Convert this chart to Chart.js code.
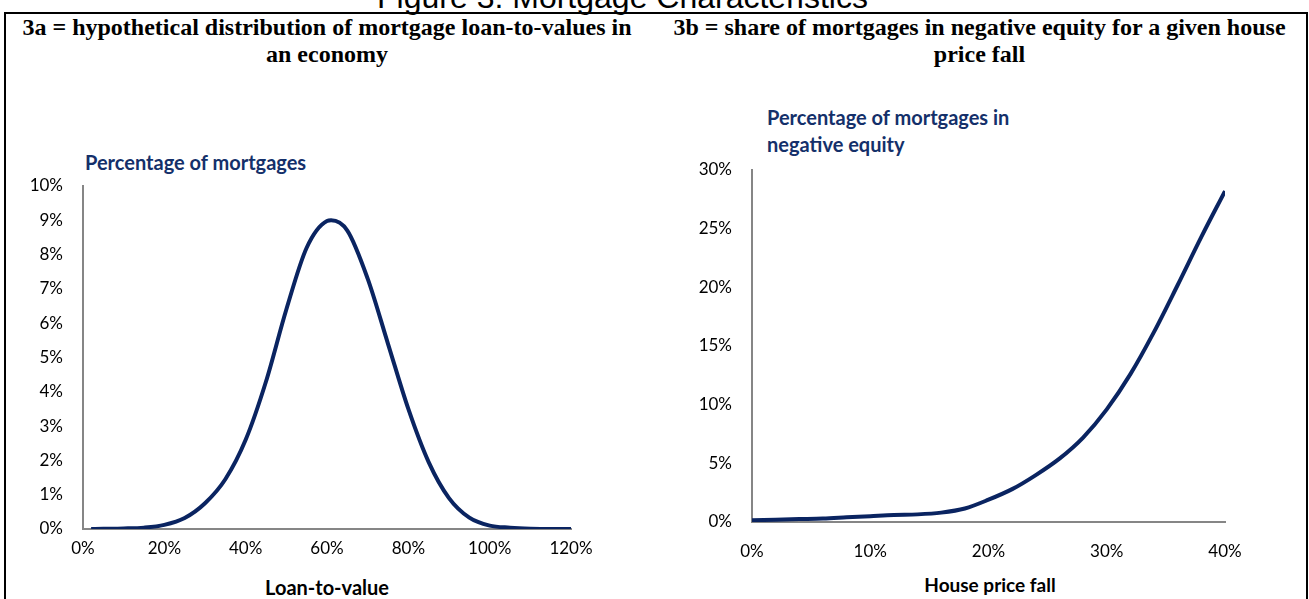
<!DOCTYPE html>
<html>
<head>
<meta charset="utf-8">
<script src="https://cdn.jsdelivr.net/npm/chart.js@4.4.1/dist/chart.umd.min.js"></script>
<style>
  body { margin:0; background:#fff; width:1309px; height:599px; overflow:hidden; position:relative; font-family:Lato, sans-serif; }
  .abs { position:absolute; white-space:nowrap; }
  #fig-title { left:-32px; width:1309px; top:-21px; text-align:center; font:32px 'Liberation Sans', Arial, sans-serif; line-height:37px; color:#000; }
  #frame { left:4px; top:12px; width:1304px; height:600px; border:2px solid #000; box-sizing:border-box; }
  .sub { top:14px; text-align:center; font:bold 24px 'Liberation Serif', 'Times New Roman', serif; line-height:27px; color:#000; }
  .ytitle { font:bold 20px Lato, sans-serif; color:#14306a; line-height:27px; }
  .xtitle { font:bold 20px Lato, sans-serif; color:#000; text-align:center; line-height:24px; }
</style>
</head>
<body>
<div id="fig-title" class="abs">Figure 3: Mortgage Characteristics</div>
<div id="frame" class="abs"></div>
<div class="abs sub" style="left:4px;width:646px;">3a = hypothetical distribution of mortgage loan-to-values in<br>an economy</div>
<div class="abs sub" style="left:654px;width:651px;">3b = share of mortgages in negative equity for a given house<br>price fall</div>

<div class="abs ytitle" style="left:85px;top:149px;">Percentage of mortgages</div>
<div class="abs ytitle" style="left:767px;top:104px;">Percentage of mortgages in<br>negative equity</div>
<div class="abs xtitle" style="left:227px;width:200px;top:575px;">Loan-to-value</div>
<div class="abs xtitle" style="left:890px;width:200px;top:573px;font-size:19px;">House price fall</div>

<div style="position:absolute;left:10px;top:160px;width:600px;height:420px;"><canvas id="ltv"></canvas></div>
<div style="position:absolute;left:680px;top:150px;width:620px;height:430px;"><canvas id="neg"></canvas></div>

<script>
// 3a: loan-to-value distribution (% of mortgages)
const ltvX = [2, 5, 10, 15, 20, 25, 30, 35, 40, 45, 50, 55, 60, 61, 65, 70, 75, 80, 85, 90, 95, 100, 105, 110, 115, 120];
const ltvY = [0, 0.005, 0.015, 0.04, 0.12, 0.32, 0.75, 1.45, 2.6, 4.3, 6.4, 8.2, 8.98, 9.0, 8.7, 7.3, 5.4, 3.5, 1.95, 0.9, 0.33, 0.1, 0.04, 0.01, 0, 0];

// 3b: share in negative equity by house price fall
const fallX = [0, 2, 4, 6, 8, 10, 12, 14, 16, 18, 20, 22, 24, 26, 28, 30, 32, 34, 36, 38, 40];
const negY  = [0.15, 0.2, 0.25, 0.3, 0.4, 0.5, 0.6, 0.65, 0.8, 1.15, 1.9, 2.8, 4.0, 5.4, 7.2, 9.6, 12.6, 16.2, 20.2, 24.3, 28.2];

const LINE = '#0a2461';
const AXIS = '#868686';
const tickFont = { family: 'Lato, sans-serif', size: 17 };

function makeChart(id, xs, ys, o) {
  return new Chart(document.getElementById(id), {
    type: 'line',
    data: {
      datasets: [{
        data: xs.map((x, i) => ({ x, y: ys[i] })),
        borderColor: LINE,
        borderWidth: 4,
        pointRadius: 0,
        tension: 0.4,
        cubicInterpolationMode: 'monotone',
        fill: false,
      }]
    },
    options: {
      responsive: true, maintainAspectRatio: false,
      animation: false,
      layout: { padding: o.pad },
      plugins: { legend: { display: false }, tooltip: { enabled: false } },
      scales: {
        x: {
          type: 'linear', min: 0, max: o.xMax,
          afterFit: s => { s.height = o.xH; },
          grid: { display: false, drawTicks: false },
          border: { color: AXIS, width: 2 },
          ticks: { stepSize: o.xStep, color: '#000', font: tickFont, padding: o.xPad, maxRotation: 0,
                   callback: v => v + '%' }
        },
        y: {
          min: 0, max: o.yMax,
          afterFit: s => { s.width = o.yW; },
          // tick marks hidden; tickLength only spaces the labels off the axis
          grid: { display: false, drawTicks: true, tickLength: 20 },
          border: { color: AXIS, width: 2 },
          ticks: { stepSize: o.yStep, color: '#000', font: tickFont, padding: 0,
                   callback: v => v + '%' }
        }
      }
    }
  });
}

makeChart('ltv', ltvX, ltvY, {
  xMax: 120, xStep: 20, yMax: 10, yStep: 1,
  yW: 73, xH: 51, xPad: 9,
  pad: { top: 26, right: 39, left: 0, bottom: 0 }
});

makeChart('neg', fallX, negY, {
  xMax: 40, xStep: 10, yMax: 30, yStep: 5,
  yW: 72, xH: 58, xPad: 19,
  pad: { top: 20, right: 75, left: 0, bottom: 0 }
});
</script>
</body>
</html>
